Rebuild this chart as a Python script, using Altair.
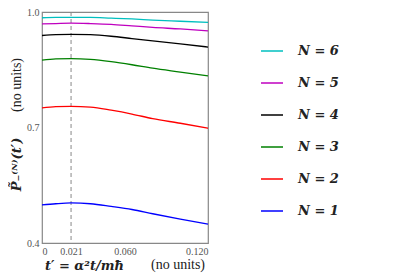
import altair as alt
import pandas as pd

t_vals = [0.0, 0.01, 0.021, 0.035, 0.05, 0.065, 0.08, 0.10, 0.12]
n1 = [0.499, 0.502, 0.504, 0.502, 0.495, 0.487, 0.476, 0.462, 0.449]
n2 = [0.751, 0.754, 0.755, 0.753, 0.745, 0.735, 0.723, 0.711, 0.698]
n3 = [0.875, 0.878, 0.879, 0.877, 0.871, 0.863, 0.854, 0.844, 0.834]
n4 = [0.939, 0.941, 0.942, 0.941, 0.937, 0.931, 0.925, 0.917, 0.909]
n5 = [0.969, 0.970, 0.971, 0.970, 0.968, 0.964, 0.960, 0.956, 0.951]
n6 = [0.985, 0.986, 0.986, 0.986, 0.984, 0.982, 0.979, 0.976, 0.973]
series_names = ["N = 1", "N = 2", "N = 3", "N = 4", "N = 5", "N = 6"]
series_colors = ["#0000ff", "#ff0000", "#008000", "#000000", "#bf00bf", "#00bfbf"]
x_ticks = [0, 0.021, 0.06, 0.12]
y_ticks = [0.4, 0.7, 1.0]
t_marker = [0.021]
units_text = ["(no units)"]

rows = []
for name, vals in zip(series_names, [n1, n2, n3, n4, n5, n6]):
    for t, v in zip(t_vals, vals):
        rows.append({"t": t, "P": v, "N": name})
df = pd.DataFrame(rows)

legend_order = series_names[::-1]
color_order = series_colors[::-1]

x_axis = alt.Axis(
    values=x_ticks,
    labelExpr="datum.value == 0 ? '0' : format(datum.value, '.3f')",
    title="t′ = α²t/mħ",
    grid=False, ticks=False, domain=False,
    labelFont="Liberation Serif", labelFontSize=10, labelColor="#555555",
    labelPadding=3,
    titleFont="DejaVu Serif", titleFontSize=13, titleFontWeight="bold",
    titleFontStyle="italic", titleColor="#222222",
    titleX=42, titleY=22, titleAlign="center", titleBaseline="middle",
)
y_axis = alt.Axis(
    values=y_ticks, format=".1f",
    title="P̃₋⁽ᴺ⁾(t′)",
    grid=False, ticks=False, domain=False,
    labelFont="Liberation Serif", labelFontSize=10, labelColor="#555555",
    labelPadding=3,
    titleFont="DejaVu Serif", titleFontSize=13, titleFontWeight="bold",
    titleFontStyle="italic", titleColor="#222222",
    titleX=-26, titleY=152, titleAlign="center", titleBaseline="middle",
    titleAngle=-90,
)

lines = alt.Chart(df).mark_line(strokeWidth=1.3, interpolate="monotone").encode(
    x=alt.X("t:Q", scale=alt.Scale(domain=[0, 0.12], nice=False, zero=False), axis=x_axis),
    y=alt.Y("P:Q", scale=alt.Scale(domain=[0.4, 1.0], nice=False, zero=False), axis=y_axis),
    color=alt.Color(
        "N:N",
        scale=alt.Scale(domain=legend_order, range=color_order),
        legend=alt.Legend(
            title=None, orient="none", legendX=218, legendY=27,
            symbolType="stroke", symbolSize=484, symbolStrokeWidth=1.5,
            rowPadding=13, labelOffset=14, padding=0,
            labelFont="DejaVu Serif", labelFontSize=13, labelFontWeight="bold",
            labelFontStyle="italic", labelColor="#222222",
        ),
    ),
)

rule = alt.Chart(pd.DataFrame({"t": t_marker})).mark_rule(
    color="#888888", strokeDash=[4, 3], strokeWidth=1
).encode(x="t:Q")

units_df = pd.DataFrame({"txt": units_text})
x_units = alt.Chart(units_df).mark_text(
    font="Liberation Serif", fontSize=14, color="#222222", align="center", baseline="middle"
).encode(text="txt:N", x=alt.value(136), y=alt.value(253))
y_units = alt.Chart(units_df).mark_text(
    font="Liberation Serif", fontSize=14, color="#222222", align="center", baseline="middle",
    angle=270,
).encode(text="txt:N", x=alt.value(-25), y=alt.value(73))

chart = (rule + lines + x_units + y_units).properties(
    width=166, height=231,
    autosize=alt.AutoSizeParams(type="none"),
    padding={"left": 34, "top": 4, "right": 183, "bottom": 36},
).configure_view(stroke="#888888", strokeWidth=1.2)

chart.save("out.html", embed_options={"renderer": "svg", "actions": False})
